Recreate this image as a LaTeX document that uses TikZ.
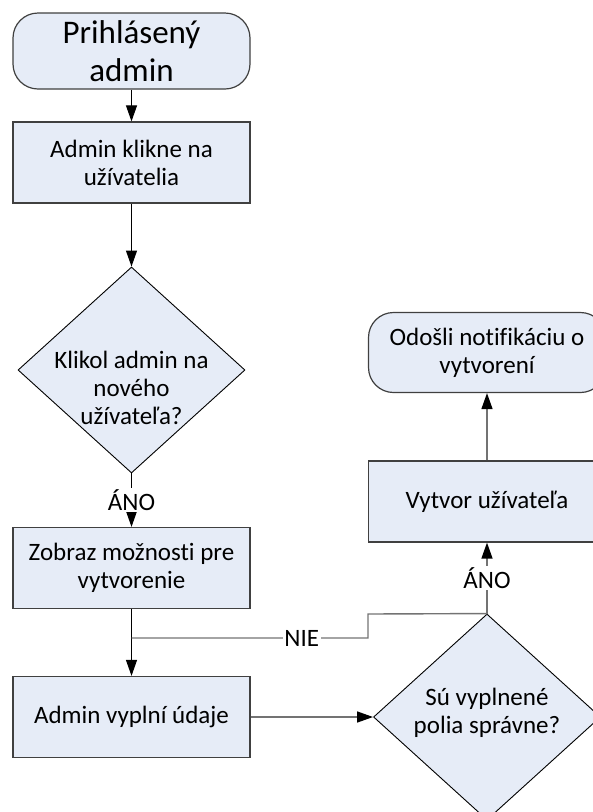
\documentclass[tikz,border=0pt]{standalone}
\usepackage{fontspec}
\setmainfont[Ligatures=NoCommon]{Carlito}
\usetikzlibrary{shapes.geometric,arrows.meta}
\definecolor{boxfill}{RGB}{230,236,247}
\definecolor{linegray}{RGB}{115,115,115}
\definecolor{bordergray}{RGB}{64,64,64}
\begin{document}
\begin{tikzpicture}[x=1pt,y=-1pt,
  base/.style={fill=boxfill, draw=bordergray, line width=1.2pt, inner sep=0pt, align=center, font=\fontsize{25}{28}\selectfont},
  procbox/.style={base, rectangle, minimum width=237pt, minimum height=81pt},
  termbox/.style={base, rectangle, rounded corners=25pt, minimum width=237pt},
  decbox/.style={base, diamond, draw=black, line width=0.9pt, minimum width=227pt, minimum height=206pt},
  txt/.style={align=center, font=\fontsize{25}{28}\selectfont, inner sep=1pt},
  lbl/.style={txt, fill=white, inner sep=1.5pt},
  arr/.style={-{Triangle[length=16pt,width=11pt,color=black]}},
  blk/.style={draw=black, line width=1pt},
  gry/.style={draw=linegray, line width=1.4pt}
]
\useasboundingbox (0,0) rectangle (593,812);
\clip (0,0) rectangle (593,812);

\node[termbox, minimum height=76pt, font=\fontsize{33}{38}\selectfont] (start) at (131.5,51) {Prihlásený\\admin};
\node[procbox] (b1) at (131.5,162.5) {Admin klikne na\\užívatelia};
\node[decbox] (d1) at (131.5,370) {};
\node[txt] (d1t) at (131.5,388) {Klikol admin na\\nového\\užívateľa?};
\node[procbox] (b2) at (131.5,568) {Zobraz možnosti pre\\vytvorenie};
\node[procbox] (b3) at (131.5,717) {Admin vyplní údaje};
\node[decbox] (d2) at (487,717) {};
\node[txt] (d2t) at (487,713) {Sú vyplnené\\polia správne?};
\node[procbox] (b4) at (487,501.5) {Vytvor užívateľa};
\node[termbox, minimum height=80pt] (end) at (487,352.5) {Odošli notifikáciu o\\vytvorení};

\coordinate (n1) at (368,614);
\coordinate (n2) at (368,638);
\coordinate (njoin) at (131.5,638);

\draw[arr, blk] (start) -- (b1);
\draw[arr, blk] (b1) -- (d1);
\draw[arr, blk] (d1.south) -- node[lbl]{ÁNO} (b2.north);
\draw[arr, blk] (b2) -- (b3);
\draw[arr, gry] (b3) -- (d2);
\draw[arr, gry] (d2.north) -- node[lbl]{ÁNO} (b4.south);
\draw[arr, gry] (b4) -- (end);
\draw[gry] (d2.north) -- (n1) -- (n2) -- node[lbl, pos=0.28]{NIE} (njoin);
\end{tikzpicture}
\end{document}
